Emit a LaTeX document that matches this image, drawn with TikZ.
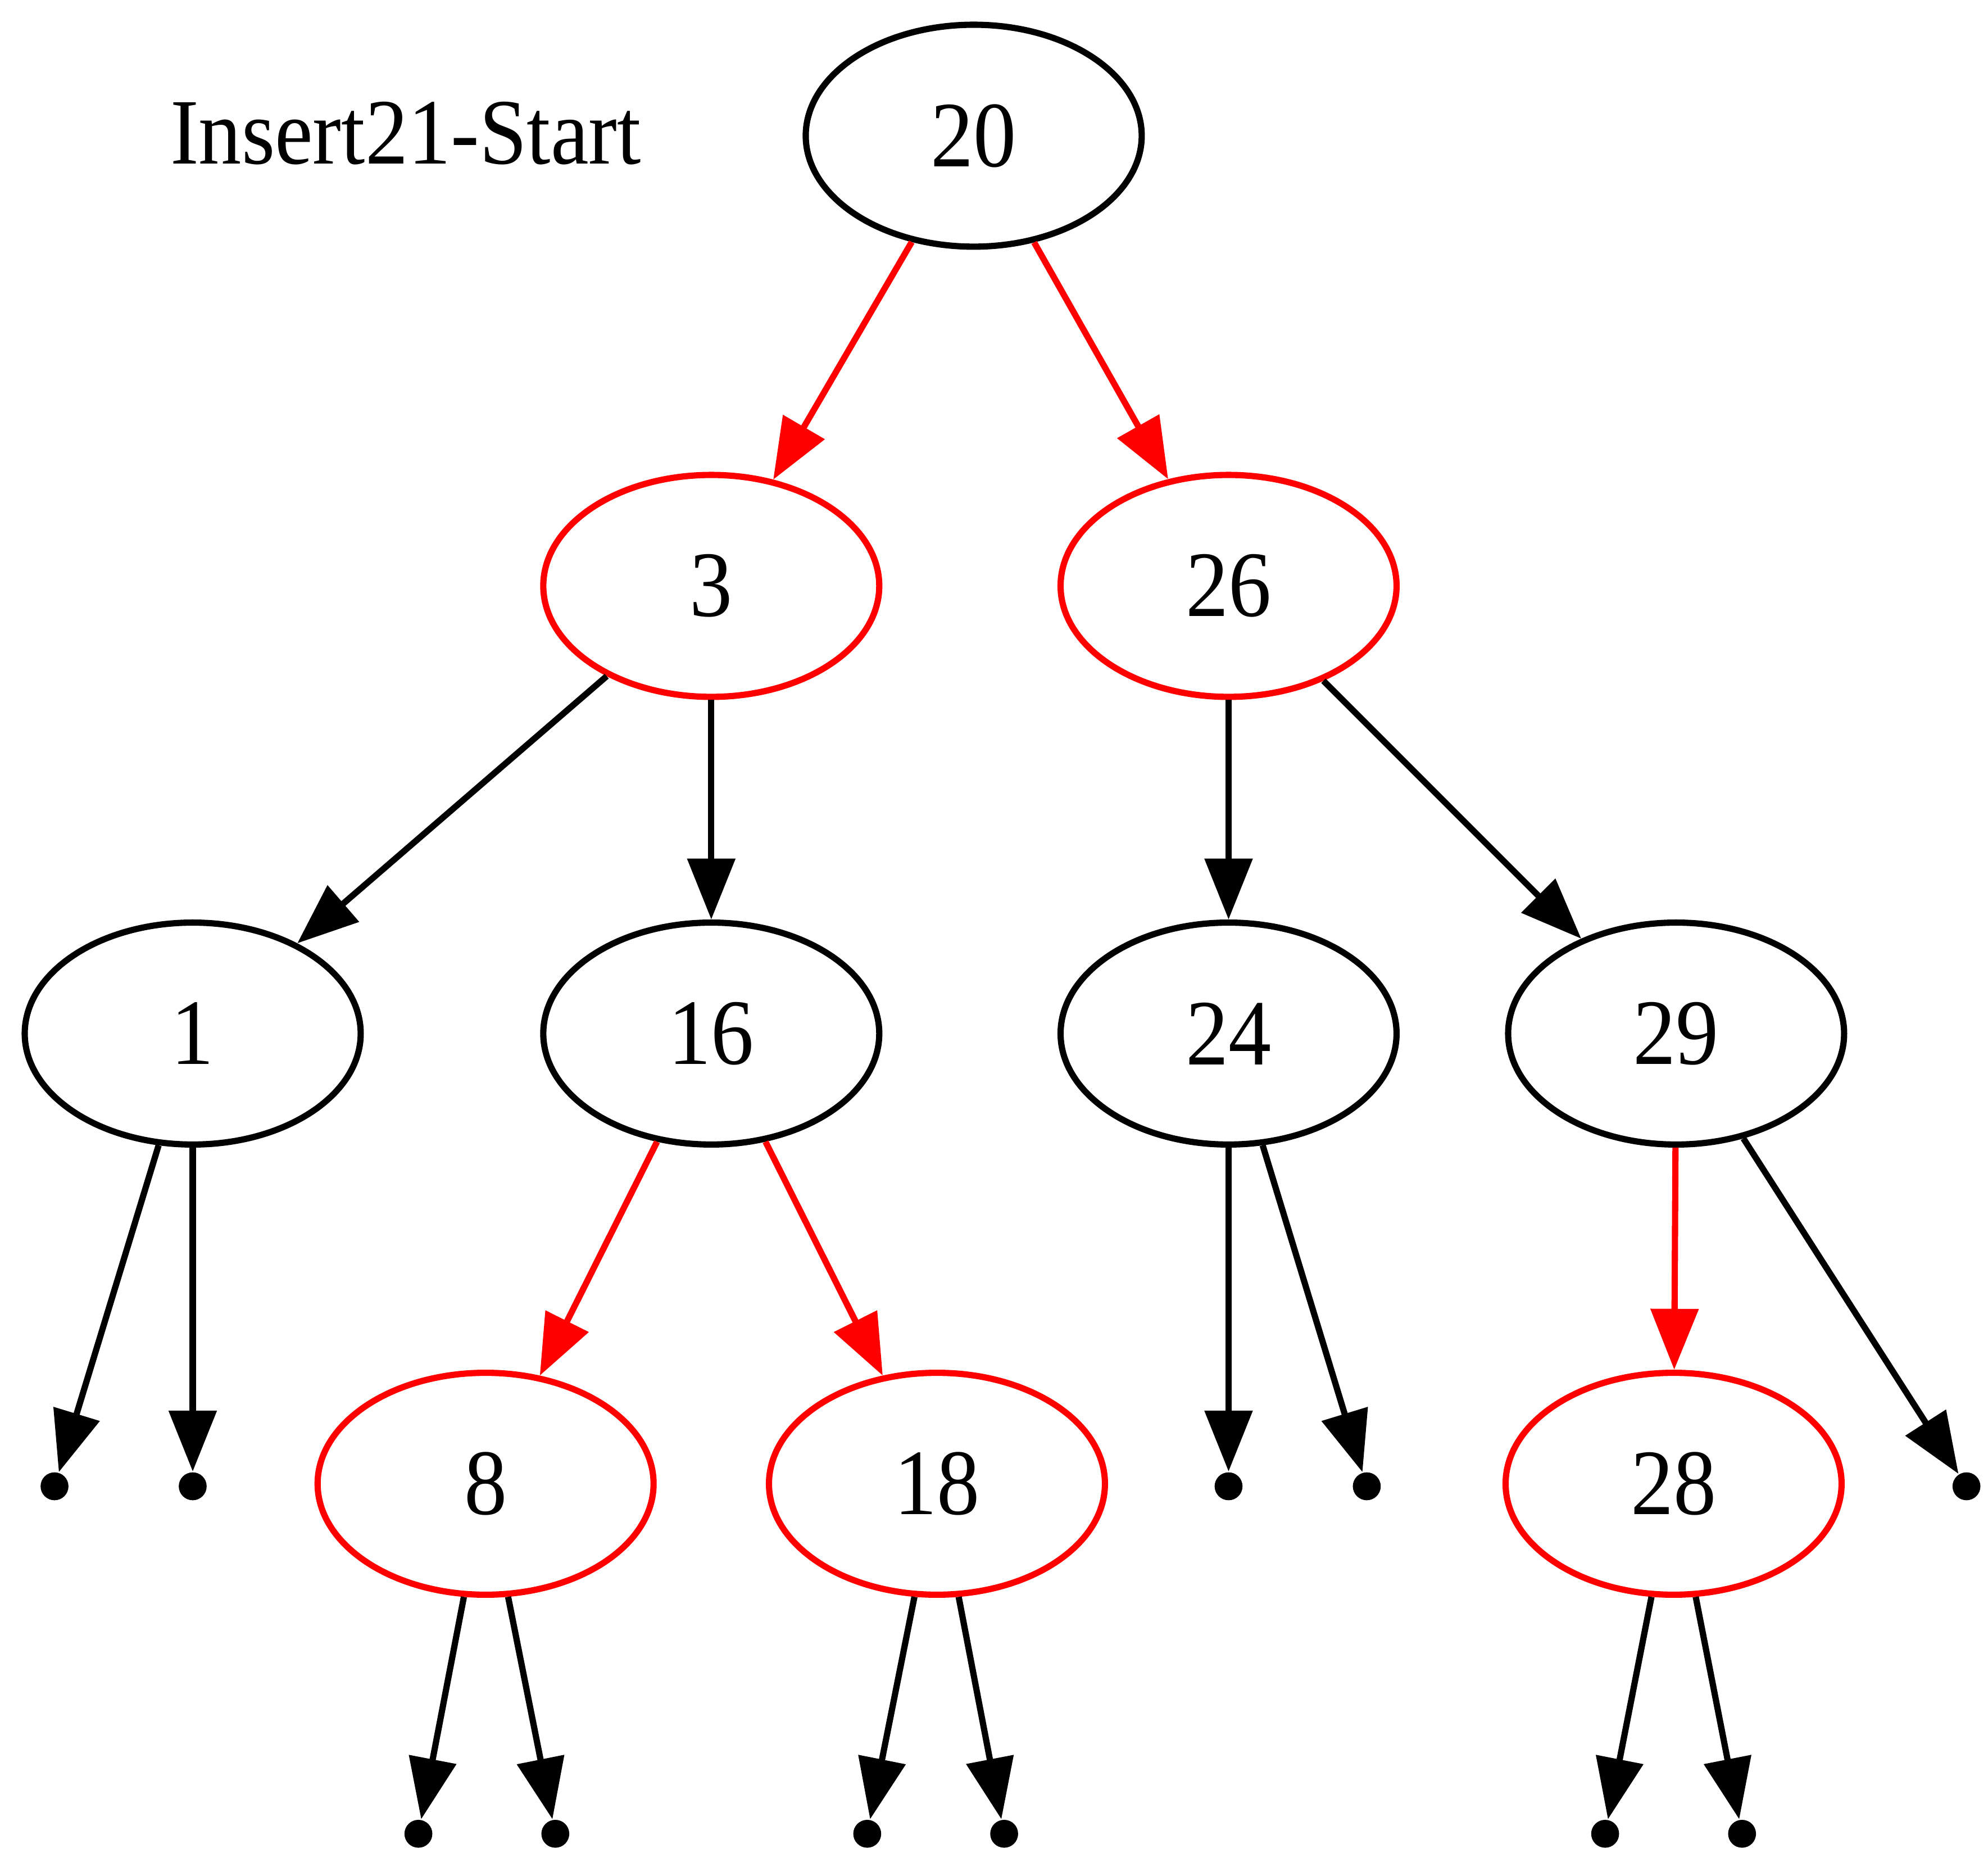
\documentclass[tikz,border=0pt]{standalone}
\usepackage{fontspec}
\setmainfont[FakeStretch=0.915]{Liberation Serif}
\usetikzlibrary{positioning, arrows.meta, shapes.geometric}

\begin{document}
\begin{tikzpicture}[
    rbnode/.style={draw, ellipse, line width=1.4pt, minimum width=2.65cm, minimum height=1.75cm, inner sep=0pt, font=\fontsize{21}{25}\selectfont},
    blk/.style={rbnode, draw=black},
    rd/.style={rbnode, draw=red},
    nil/.style={circle, fill=black, inner sep=0pt, minimum size=0.22cm},
    arrow/.style={-{Triangle[length=0.48cm, width=0.37cm]}, line width=1.4pt},
    redarrow/.style={arrow, draw=red, fill=red},
    lbl/.style={font=\fontsize{21}{25}\selectfont},
]
\useasboundingbox (0,0) rectangle (15.68,-14.75);

% Title
\node[lbl] (title) at (3.20, -1.05) {Insert21-Start};

% Root
\node[blk] (n20) at (7.68, -1.07) {20};

% Level 1
\node[rd] (n3) at (5.61, -4.62) {3};
\node[rd] (n26) at (9.69, -4.62) {26};

% Level 2
\foreach \name/\x in {1/1.52, 16/5.61, 24/9.69, 29/13.22} {
    \node[blk] (n\name) at (\x, -8.15) {\name};
}

% Level 3
\foreach \name/\x in {8/3.83, 18/7.39, 28/13.20} {
    \node[rd] (n\name) at (\x, -11.70) {\name};
}

% NIL leaves
\foreach \name/\x in {1a/0.43, 1b/1.52, 24a/9.69, 24b/10.78, 29b/15.51} {
    \node[nil] (l\name) at (\x, -11.72) {};
}
\foreach \name/\x in {8a/3.30, 8b/4.38, 18a/6.84, 18b/7.92, 28a/12.66, 28b/13.74} {
    \node[nil] (l\name) at (\x, -14.46) {};
}

% Red links
\draw[redarrow] (n20) -- (n3);
\draw[redarrow] (n20) -- (n26);
\draw[redarrow] (n16) -- (n8);
\draw[redarrow] (n16) -- (n18);
\draw[redarrow] (n29) -- (n28);

% Black links
\draw[arrow] (n3) -- (n1);
\draw[arrow] (n3) -- (n16);
\draw[arrow] (n26) -- (n24);
\draw[arrow] (n26) -- (n29);
\draw[arrow] (n29) -- (l29b);
\foreach \p in {1, 24, 8, 18, 28} {
    \draw[arrow] (n\p) -- (l\p a);
    \draw[arrow] (n\p) -- (l\p b);
}

\end{tikzpicture}
\end{document}
